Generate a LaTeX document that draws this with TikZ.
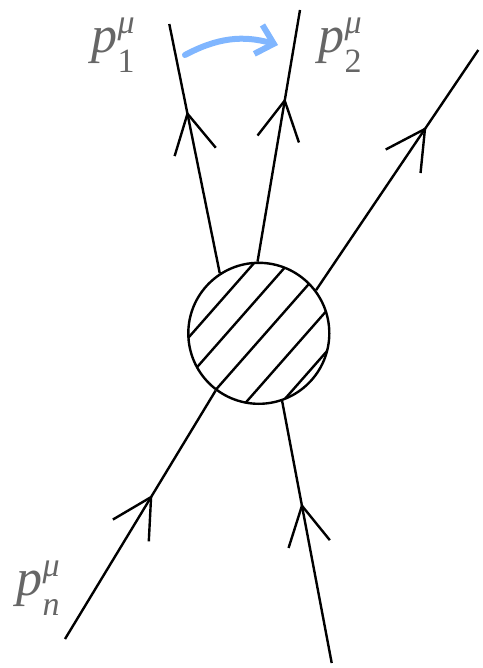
\documentclass[tikz,border=0pt]{standalone}
\usepackage{fontspec}
\setmainfont{Liberation Serif}
\usetikzlibrary{arrows.meta,decorations.markings}
\definecolor{lblgray}{RGB}{102,102,102}
\definecolor{flowblue}{RGB}{128,182,255}
% momentum label: p with index below and mu above
\newcommand\momlabel[1]{\itshape p\rlap{\raisebox{0.37em}{\fontsize{34}{34}\selectfont μ}}%
  \raisebox{-0.38em}{\fontsize{34}{34}\selectfont #1}}

\begin{document}
\begin{tikzpicture}[x=1pt,y=-1pt,line width=2.4pt,
  leg/.style={postaction={decorate},decoration={markings,
    mark=at position #1 with {\arrow{Straight Barb[length=39pt,width=42pt]}}}},
  lbl/.style={text=lblgray,font=\fontsize{52}{60}\selectfont,inner sep=0pt}]
  \useasboundingbox (0,0) rectangle (482,668);
  % blob and hatching
  \node[circle,draw,minimum size=141pt,inner sep=0pt] (blob) at (258.8,333.3) {};
  \begin{scope}[shift={(blob.center)}]
    \clip (0,0) circle[radius=70.5pt];
    \foreach \o in {-50,-24,5,36,63}
      \draw ({0.75*\o-0.66*90},{0.66*\o+0.75*90}) -- ({0.75*\o+0.66*90},{0.66*\o-0.75*90});
  \end{scope}
  % external legs
  \coordinate (q1) at (169.3,24);
  \coordinate (q2) at (300,10);
  \coordinate (q3) at (478.3,50);
  \coordinate (qn) at (65,639);
  \coordinate (q4) at (331.7,663);
  \draw[leg=0.65] (blob.123) -- (q1);
  \draw[leg=0.65] (blob.91) -- (q2);
  \draw[leg=0.68] (blob.37) -- (q3);
  \draw[leg=0.58] (qn) -- (blob.233);
  \draw[leg=0.61] (q4) -- (blob.289);
  % labels
  \node[lbl] (l1) at (113,45) {\momlabel{\upshape 1}};
  \node[lbl] (l2) at (340,45) {\momlabel{\upshape 2}};
  \node[lbl] (ln) at (38,588) {\momlabel{n}};
  % swap arrow
  \coordinate (s1) at (185,55);
  \coordinate (s2) at (278,45);
  \draw[flowblue,line width=6pt,line cap=round,
    -{Straight Barb[length=16pt,width=30pt]}] (s1) to[bend left=22] (s2);
\end{tikzpicture}
\end{document}
